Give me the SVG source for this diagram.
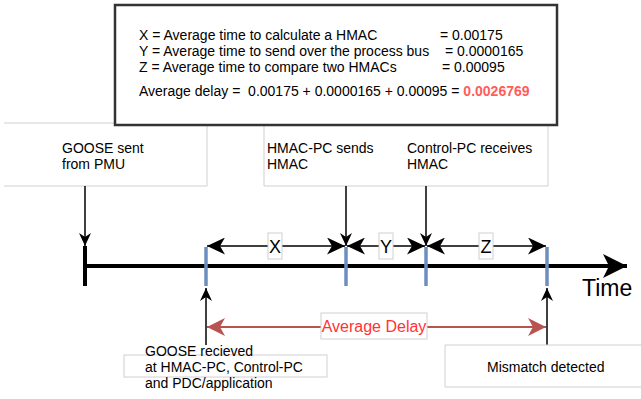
<svg xmlns="http://www.w3.org/2000/svg" width="641" height="399" viewBox="0 0 641 399">
<defs>
<style>
text{font-family:"Liberation Sans",Arial,sans-serif;font-size:14px;fill:#000}
.lbl{fill:#fff;stroke:#d0d0d0;stroke-width:1}
.edge{fill:none;stroke:#d0d0d0;stroke-width:1}
.ln{fill:none;stroke:#000;stroke-width:1.5}
.tick{stroke:#6c8ebf;stroke-width:3.5}
text.sm{font-size:18px}
text.big{font-size:23px}
text.red{font-size:16px;fill:#ff3333}
</style>
<marker id="ah" viewBox="0 0 18 17" refX="18" refY="8.5" markerWidth="18" markerHeight="17" markerUnits="userSpaceOnUse" orient="auto-start-reverse">
<path d="M0,0 L18,8.5 L0,17 L5,8.5 z" fill="#000"/>
</marker>
<marker id="ahs" viewBox="0 0 13 12" refX="13" refY="6" markerWidth="13" markerHeight="12" markerUnits="userSpaceOnUse" orient="auto-start-reverse">
<path d="M0,0 L13,6 L0,12 L4,6 z" fill="#000"/>
</marker>
<marker id="ahb" viewBox="0 0 24 24" refX="24" refY="12" markerWidth="24" markerHeight="24" markerUnits="userSpaceOnUse" orient="auto">
<path d="M0,0 L24,12 L0,24 L6,12 z" fill="#000"/>
</marker>
<marker id="ahr" viewBox="0 0 18 18" refX="18" refY="9" markerWidth="18" markerHeight="18" markerUnits="userSpaceOnUse" orient="auto-start-reverse">
<path d="M0,0 L18,9 L0,18 L5,9 z" fill="#b85450"/>
</marker>
</defs>

<g id="label-goose-sent">
<path class="edge" d="M4,123 H207 V186 H4"/>
<text x="62" y="153">GOOSE sent</text>
<text x="62" y="169">from PMU</text>
</g>

<g id="label-hmac-sends">
<path class="edge" d="M264,123 V186 H548 V123"/>
<text x="267" y="153">HMAC-PC sends</text>
<text x="267" y="169">HMAC</text>
</g>

<g id="label-control-receives">
<text x="407" y="153">Control-PC receives</text>
<text x="407" y="169">HMAC</text>
</g>

<g id="info-box">
<rect x="115" y="5" width="442" height="120" fill="#fff" stroke="#333" stroke-width="2.5"/>
<text x="139" y="40">X = Average time to calculate a HMAC</text>
<text x="440" y="40">= 0.00175</text>
<text x="139" y="56">Y = Average time to send over the process bus</text>
<text x="445" y="56">= 0.0000165</text>
<text x="139" y="72">Z = Average time to compare two HMACs</text>
<text x="442" y="72">= 0.00095</text>
<text x="139" y="96" xml:space="preserve">Average delay =  0.00175 + 0.0000165 + 0.00095 = <tspan fill="#ff5c5c" font-weight="bold">0.0026769</tspan></text>
</g>

<g id="connectors">
<line class="ln" x1="85" y1="186" x2="85" y2="246" marker-end="url(#ahs)"/>
<line class="ln" x1="346" y1="186" x2="346" y2="246" marker-end="url(#ahs)"/>
<line class="ln" x1="426" y1="186" x2="426" y2="246" marker-end="url(#ahs)"/>
<line class="ln" x1="207" y1="246" x2="345" y2="246" marker-start="url(#ah)" marker-end="url(#ah)"/>
<line class="ln" x1="347" y1="246" x2="425" y2="246" marker-start="url(#ah)" marker-end="url(#ah)"/>
<line class="ln" x1="427" y1="246" x2="546" y2="246" marker-start="url(#ah)" marker-end="url(#ah)"/>
<line class="ln" x1="206" y1="345" x2="206" y2="288" marker-end="url(#ahs)"/>
<line class="ln" x1="547" y1="345" x2="547" y2="288" marker-end="url(#ahs)"/>
<line x1="207" y1="327" x2="546" y2="327" stroke="#b85450" stroke-width="2" marker-start="url(#ahr)" marker-end="url(#ahr)"/>
</g>

<g id="timeline">
<line x1="85" y1="266" x2="627" y2="266" stroke="#000" stroke-width="4" marker-end="url(#ahb)"/>
<line x1="85" y1="246" x2="85" y2="286" stroke="#000" stroke-width="4"/>
<line class="tick" x1="206" y1="247" x2="206" y2="286"/>
<line class="tick" x1="346" y1="247" x2="346" y2="286"/>
<line class="tick" x1="426" y1="247" x2="426" y2="286"/>
<line class="tick" x1="547" y1="247" x2="547" y2="286"/>
<text class="big" x="582" y="296">Time</text>
</g>

<g id="label-x">
<rect class="lbl" x="268" y="233" width="14" height="26"/>
<text class="sm" x="275" y="253" text-anchor="middle">X</text>
</g>
<g id="label-y">
<rect class="lbl" x="379" y="233" width="14" height="26"/>
<text class="sm" x="386" y="253" text-anchor="middle">Y</text>
</g>
<g id="label-z">
<rect class="lbl" x="479" y="233" width="14" height="26"/>
<text class="sm" x="486" y="253" text-anchor="middle">Z</text>
</g>

<g id="label-average-delay">
<rect class="lbl" x="321" y="313" width="106" height="26"/>
<text class="red" x="374" y="332" text-anchor="middle">Average Delay</text>
</g>

<g id="label-goose-received">
<rect x="124" y="355" width="203" height="22" fill="none" stroke="#d0d0d0" stroke-width="1"/>
<text x="145" y="356">GOOSE recieved</text>
<text x="145" y="372">at HMAC-PC, Control-PC</text>
<text x="145" y="388">and PDC/application</text>
</g>

<g id="label-mismatch">
<path class="edge" d="M645,345 H445 V387 H645"/>
<text x="487" y="372">Mismatch detected</text>
</g>
</svg>
